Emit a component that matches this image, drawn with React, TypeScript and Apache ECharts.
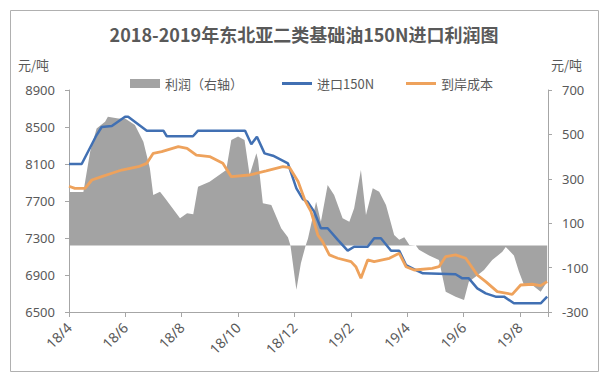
import React, { useEffect, useRef } from "react";
import * as echarts from "echarts";

// x positions are months counted from 2018/4 (0 = 18/4, 17 = 19/9)
const xTickLabels = ["18/4", "18/6", "18/8", "18/10", "18/12", "19/2", "19/4", "19/6", "19/8"];

const importT = [0, 0.45, 0.98, 1.16, 1.52, 1.99, 2.1, 2.76, 3.35, 3.47, 4.4, 4.58, 6.25, 6.47, 6.67, 6.94, 7.24, 7.77, 8.07, 8.3, 8.47, 8.7, 8.94, 9.18, 9.54, 9.89, 10.12, 10.6, 10.83, 11.07, 11.43, 11.72, 11.96, 12.31, 12.56, 13.72, 13.96, 14.19, 14.49, 14.79, 15.14, 15.44, 15.79, 16.74, 16.97];
const importV = [8100, 8100, 8413, 8500, 8510, 8610, 8610, 8460, 8460, 8400, 8400, 8460, 8460, 8313, 8395, 8215, 8190, 8107, 7837, 7720, 7690, 7585, 7405, 7405, 7279, 7163, 7206, 7206, 7297, 7297, 7163, 7163, 7008, 6954, 6918, 6908, 6864, 6864, 6756, 6702, 6666, 6666, 6594, 6594, 6666];

const costT = [0, 0.21, 0.57, 0.81, 1.16, 1.52, 1.87, 2.46, 2.76, 2.99, 3.29, 3.88, 4.19, 4.52, 4.99, 5.46, 5.76, 6.41, 7.0, 7.59, 7.83, 8.13, 8.37, 8.59, 8.83, 9.0, 9.24, 9.54, 10.01, 10.18, 10.36, 10.6, 10.83, 11.37, 11.72, 11.96, 12.25, 12.89, 13.13, 13.37, 13.72, 14.08, 14.49, 14.79, 15.2, 15.73, 16.03, 16.44, 16.74, 16.97];
const costV = [7860, 7837, 7837, 7927, 7963, 8000, 8035, 8071, 8107, 8215, 8233, 8287, 8270, 8197, 8180, 8107, 7963, 7981, 8025, 8071, 8060, 7910, 7711, 7585, 7333, 7261, 7117, 7081, 7045, 6990, 6865, 7063, 7045, 7081, 7135, 6990, 6954, 6972, 6990, 7099, 7117, 7081, 6900, 6828, 6720, 6691, 6792, 6800, 6785, 6828];

const profitT = [0, 0.51, 0.75, 0.98, 1.28, 1.38, 1.75, 1.99, 2.34, 2.64, 2.87, 2.99, 3.23, 3.41, 3.94, 4.19, 4.41, 4.58, 4.99, 5.58, 5.76, 6.0, 6.23, 6.41, 6.65, 6.71, 6.88, 7.18, 7.53, 7.77, 7.86, 8.07, 8.23, 8.4, 8.48, 8.77, 8.94, 9.18, 9.41, 9.71, 9.95, 10.12, 10.36, 10.54, 10.78, 11.01, 11.25, 11.54, 11.72, 11.9, 12.08, 12.31, 12.42, 12.78, 13.13, 13.37, 13.72, 14.02, 14.19, 14.43, 14.73, 15.02, 15.38, 15.5, 15.79, 15.97, 16.15, 16.44, 16.74, 16.97];
const profitV = [240, 240, 422, 527, 557, 580, 572, 572, 542, 467, 347, 227, 242, 212, 122, 145, 140, 264, 287, 340, 475, 490, 475, 317, 415, 385, 190, 182, 77, 37, 0, -200, -80, 0, 30, 197, 107, 272, 227, 122, 107, 167, 340, 137, 257, 242, 182, 47, 25, 37, 2, 0, -20, -45, -66, -209, -231, -246, -164, -141, -111, -66, -29, -7, -45, -119, -178, -178, -209, -164];

const LEFT_MIN = 6500, LEFT_MAX = 8900, LEFT_STEP = 400;
const RIGHT_MIN = -300, RIGHT_MAX = 700, RIGHT_STEP = 200;

const zip = (t: number[], v: number[]) => t.map((x, i) => [x, v[i]]);

const CJK = "'Noto Sans CJK SC', 'Noto Sans', sans-serif";
const NUM = "'Noto Sans', 'Noto Sans CJK SC', sans-serif";
const TXT = "#595959";
const AX = "#a6a6a6";
const BLUE = "#4170b3";
const ORANGE = "#eea25c";
const GRAY = "#a3a3a3";

export default function App() {
  const ref = useRef<HTMLDivElement>(null);
  useEffect(() => {
    if (!ref.current) return;
    const chart = echarts.init(ref.current, undefined, { renderer: "svg" });
    const legendText = { color: TXT, fontSize: 13, fontFamily: CJK };
    chart.setOption({
      animation: false,
      backgroundColor: "#ffffff",
      grid: { left: 69, right: 65, top: 90, bottom: 71, containLabel: false },
      graphic: [
        {
          type: "rect",
          shape: { x: 10.5, y: 10.5, width: 588, height: 361 },
          style: { fill: "none", stroke: "#b0b0b0", lineWidth: 1 },
          silent: true,
        },
        {
          type: "text",
          x: 304,
          y: 34,
          style: {
            text: "2018-2019年东北亚二类基础油150N进口利润图",
            fill: TXT,
            font: `bold 18px ${CJK}`,
            textAlign: "center",
            textVerticalAlign: "middle",
          },
        },
        {
          type: "text",
          x: 18,
          y: 64,
          style: { text: "元/吨", fill: TXT, font: `13px ${CJK}`, textAlign: "left", textVerticalAlign: "middle" },
        },
        {
          type: "text",
          x: 551,
          y: 64,
          style: { text: "元/吨", fill: TXT, font: `13px ${CJK}`, textAlign: "left", textVerticalAlign: "middle" },
        },
      ],
      legend: [
        {
          left: 125, top: 72, icon: "rect", itemWidth: 30, itemHeight: 9, itemGap: 6,
          data: ["利润（右轴）"], textStyle: legendText,
        },
        {
          left: 277, top: 72, icon: "rect", itemWidth: 30, itemHeight: 3,
          data: ["进口150N"], textStyle: legendText,
        },
        {
          left: 401, top: 72, icon: "rect", itemWidth: 30, itemHeight: 3,
          data: ["到岸成本"], textStyle: legendText,
        },
      ],
      xAxis: {
        type: "value",
        min: 0,
        max: 17,
        interval: 2,
        splitLine: { show: false },
        axisLine: { show: true, onZero: false, lineStyle: { color: AX, width: 1 } },
        axisTick: { show: true, length: 5, lineStyle: { color: AX } },
        axisLabel: {
          rotate: 45,
          margin: 13,
          color: TXT,
          fontSize: 14,
          fontFamily: NUM,
          formatter: (v: number) => (v % 2 === 0 && v / 2 < xTickLabels.length ? xTickLabels[v / 2] : ""),
        },
      },
      yAxis: [
        {
          type: "value",
          min: LEFT_MIN,
          max: LEFT_MAX,
          interval: LEFT_STEP,
          position: "left",
          splitLine: { show: false },
          axisLine: { show: true, lineStyle: { color: AX } },
          axisTick: { show: true, length: 4, lineStyle: { color: AX } },
          axisLabel: { color: TXT, fontSize: 13, fontFamily: NUM, margin: 14, formatter: (v: number) => String(v) },
        },
        {
          type: "value",
          min: RIGHT_MIN,
          max: RIGHT_MAX,
          interval: RIGHT_STEP,
          position: "right",
          splitLine: { show: false },
          axisLine: { show: true, lineStyle: { color: AX } },
          axisTick: { show: true, length: 4, lineStyle: { color: AX } },
          axisLabel: { color: TXT, fontSize: 13, fontFamily: NUM, margin: 14, formatter: (v: number) => String(v) },
        },
      ],
      series: [
        {
          name: "利润（右轴）",
          type: "line",
          yAxisIndex: 1,
          data: zip(profitT, profitV),
          symbol: "none",
          lineStyle: { width: 0, color: GRAY },
          itemStyle: { color: GRAY },
          areaStyle: { color: GRAY, opacity: 1, origin: 0 },
          z: 1,
        },
        {
          name: "进口150N",
          type: "line",
          yAxisIndex: 0,
          data: zip(importT, importV),
          symbol: "none",
          lineStyle: { width: 2.5, color: BLUE },
          itemStyle: { color: BLUE },
          z: 3,
        },
        {
          name: "到岸成本",
          type: "line",
          yAxisIndex: 0,
          data: zip(costT, costV),
          symbol: "none",
          lineStyle: { width: 2.8, color: ORANGE },
          itemStyle: { color: ORANGE },
          z: 4,
        },
      ],
    });
    return () => chart.dispose();
  }, []);
  return (
    <div
      ref={ref}
      style={{ position: "absolute", left: 0, top: 0, width: 613, height: 383, background: "#fff" }}
    />
  );
}
